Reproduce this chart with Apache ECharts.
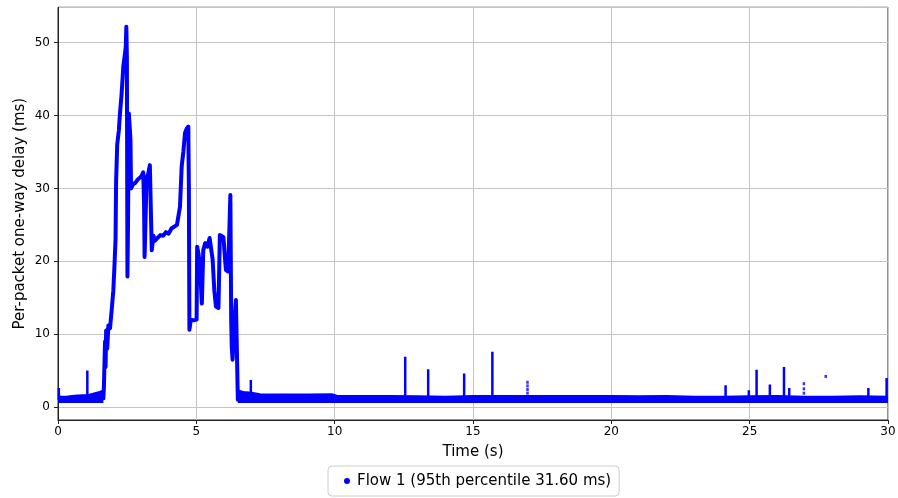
<!DOCTYPE html>
<html>
<head>
<meta charset="utf-8">
<script src="https://cdn.jsdelivr.net/npm/echarts@6/dist/echarts.min.js"></script>
<style>
html,body{margin:0;padding:0;background:#fff;}
#chart{width:898px;height:498px;}
</style>
</head>
<body>
<div id="chart"></div>
<script>
// ---- data ----
const xTicks = [0, 5, 10, 15, 20, 25, 30];
const yTicks = [0, 10, 20, 30, 40, 50];
const bandFloor = 0.55; // lower edge of the dense packet band (ms)

// Dense baseline band, upper envelope (ms): segment before the queue build-up
const band1Time = [0.0, 0.1, 0.3, 0.5, 0.7, 0.9, 1.1, 1.3, 1.5, 1.64];
const band1Top  = [1.6, 1.45, 1.45, 1.55, 1.6, 1.65, 1.7, 1.9, 2.1, 2.3];

// Dense baseline band, upper envelope (ms): segment after the queue drains
const band2Time = [6.5, 6.7, 7.0, 7.3, 8.0, 9.0, 9.9, 10.1, 11.0, 12.0, 13.0, 14.0, 15.0, 16.0, 17.0, 18.0, 19.0, 20.0, 21.0, 22.0, 23.0, 24.0, 25.0, 26.0, 27.0, 28.0, 29.0, 30.0];
const band2Top  = [2.3, 2.1, 2.0, 1.8, 1.75, 1.75, 1.8, 1.55, 1.55, 1.55, 1.5, 1.45, 1.55, 1.55, 1.55, 1.55, 1.55, 1.55, 1.5, 1.55, 1.45, 1.45, 1.5, 1.55, 1.45, 1.45, 1.5, 1.45];

// Queueing episode (1.6 s - 6.5 s)
const traceTime  = [1.64, 1.66, 1.68, 1.70, 1.72, 1.74, 1.78, 1.82, 1.88, 1.94, 2.00, 2.04, 2.08, 2.10, 2.14, 2.20, 2.24, 2.30, 2.36, 2.42, 2.45, 2.47, 2.49, 2.51, 2.53, 2.56, 2.60, 2.62, 2.64, 2.70, 2.80, 2.90, 3.00, 3.08, 3.11, 3.13, 3.16, 3.20, 3.26, 3.32, 3.35, 3.39, 3.45, 3.50, 3.60, 3.70, 3.80, 3.90, 4.00, 4.10, 4.17, 4.30, 4.37, 4.41, 4.47, 4.53, 4.59, 4.65, 4.71, 4.73, 4.75, 4.80, 4.90, 5.01, 5.03, 5.08, 5.13, 5.20, 5.25, 5.32, 5.40, 5.48, 5.55, 5.59, 5.65, 5.71, 5.80, 5.83, 5.85, 5.92, 5.98, 6.04, 6.07, 6.15, 6.19, 6.23, 6.26, 6.28, 6.31, 6.36, 6.43, 6.46, 6.50];
const traceDelay = [1.2, 2.8, 6.0, 9.0, 5.5, 10.5, 8.0, 11.2, 10.8, 13.3, 16.0, 19.3, 23.0, 31.0, 36.0, 38.0, 40.3, 43.0, 46.7, 48.5, 49.5, 52.2, 48.0, 17.9, 25.0, 40.3, 38.0, 36.5, 30.0, 30.5, 30.8, 31.3, 31.6, 32.2, 28.0, 20.6, 25.0, 31.5, 32.0, 33.2, 28.0, 21.5, 23.5, 22.8, 23.2, 23.6, 23.5, 24.0, 23.8, 24.5, 24.7, 25.0, 24.8, 27.5, 33.0, 35.0, 37.6, 38.2, 38.5, 30.2, 10.6, 12.0, 11.9, 12.0, 22.0, 21.0, 19.3, 14.2, 21.5, 22.5, 22.0, 23.2, 23.4, 20.2, 16.0, 13.8, 13.6, 13.8, 23.6, 23.5, 23.3, 20.2, 18.8, 18.6, 18.8, 29.1, 12.0, 8.3, 6.5, 10.6, 14.7, 9.0, 1.0];

// Isolated delay spikes rising out of the baseline band
const spikeTime = [0.03, 1.06, 6.97, 12.55, 13.38, 14.68, 15.70, 24.13, 24.97, 25.25, 25.73, 26.24, 26.43, 29.29, 29.95];
const spikeTop  = [2.6, 5.0, 3.7, 6.9, 5.2, 4.6, 7.6, 3.0, 2.3, 5.1, 3.1, 5.5, 2.6, 2.6, 4.0];
const spikeBase = 1.0;

// Sparse individual packets
const dotTime  = [16.97, 16.97, 16.97, 16.97, 26.96, 26.96, 26.96, 27.75];
const dotDelay = [1.9, 2.4, 2.9, 3.4, 1.9, 2.5, 3.2, 4.2];

const yMin = -1.78, yMax = 54.86;
const seriesName = 'Flow 1 (95th percentile 31.60 ms)';
const BLUE = '#0000ff';

// ---- build series data ----
const zip = (a, b) => a.map((v, i) => [v, b[i]]);
const band1 = zip(band1Time, band1Top);
const band2 = zip(band2Time, band2Top);
const trace = zip(traceTime, traceDelay);
const spikes = [];
spikeTime.forEach((t, i) => {
  spikes.push([t, spikeBase]);
  spikes.push([t, spikeTop[i]]);
  spikes.push([t, '-']);
});
const dots = zip(dotTime, dotDelay);

const chart = echarts.init(document.getElementById('chart'), null, {renderer: 'canvas'});
const FONT = 'DejaVu Sans';

const bandSeries = (data) => ({
  name: seriesName, type: 'line', data: data, showSymbol: false, symbol: 'none',
  lineStyle: {color: BLUE, width: 1.5},
  areaStyle: {color: BLUE, opacity: 1, origin: bandFloor},
  silent: true, animation: false, z: 3
});

chart.setOption({
  animation: false,
  backgroundColor: '#ffffff',
  textStyle: {fontFamily: FONT, color: '#000'},
  grid: {left: 58, right: 10, top: 7.3, bottom: 78, show: true, borderColor: '#222', borderWidth: 1, outerBoundsMode: 'none'},
  legend: {
    bottom: 2, left: 328,
    data: [{name: seriesName, icon: 'circle', itemStyle: {color: BLUE}}],
    itemWidth: 6, itemHeight: 6, itemGap: 10,
    padding: [7, 8, 7, 16],
    borderColor: '#cccccc', borderWidth: 1, borderRadius: 4,
    textStyle: {fontFamily: FONT, fontSize: 15, lineHeight: 16, color: '#000', padding: [0, 0, 0, 2]}
  },
  xAxis: {
    type: 'value', min: 0, max: 30, interval: 5,
    name: 'Time (s)', nameLocation: 'middle', nameGap: 25, nameMoveOverlap: false,
    nameTextStyle: {fontFamily: FONT, fontSize: 15, color: '#000'},
    axisLine: {show: true, onZero: false, lineStyle: {color: '#222', width: 1}},
    axisTick: {show: true, inside: false, length: 4, lineStyle: {color: '#222'}},
    axisLabel: {fontFamily: FONT, fontSize: 12, color: '#000', margin: 6},
    splitLine: {show: true, lineStyle: {color: '#c4c4c4', width: 1}}
  },
  yAxis: {
    type: 'value', min: yMin, max: yMax, splitNumber: 5,
    name: 'Per-packet one-way delay (ms)', nameLocation: 'middle', nameGap: 30, nameRotate: 90,
    nameMoveOverlap: false,
    nameTextStyle: {fontFamily: FONT, fontSize: 15, color: '#000'},
    axisLine: {show: true, onZero: false, lineStyle: {color: '#222', width: 1}},
    axisTick: {show: true, inside: false, length: 4, lineStyle: {color: '#222'}},
    axisLabel: {fontFamily: FONT, fontSize: 12, color: '#000', margin: 8, showMinLabel: false, showMaxLabel: false},
    splitLine: {show: true, lineStyle: {color: '#c4c4c4', width: 1}}
  },
  series: [
    bandSeries(band1),
    bandSeries(band2),
    {
      name: seriesName, type: 'line', data: trace, showSymbol: false, symbol: 'none',
      lineStyle: {color: BLUE, width: 4, join: 'round', cap: 'round'}, z: 4
    },
    {
      name: seriesName, type: 'line', data: spikes, showSymbol: false, symbol: 'none',
      connectNulls: false,
      lineStyle: {color: BLUE, width: 2.5, cap: 'butt'}, z: 4
    },
    {
      name: seriesName, type: 'scatter', data: dots, symbol: 'rect', symbolSize: [2.5, 3],
      itemStyle: {color: BLUE}, z: 5
    }
  ]
});
</script>
</body>
</html>
